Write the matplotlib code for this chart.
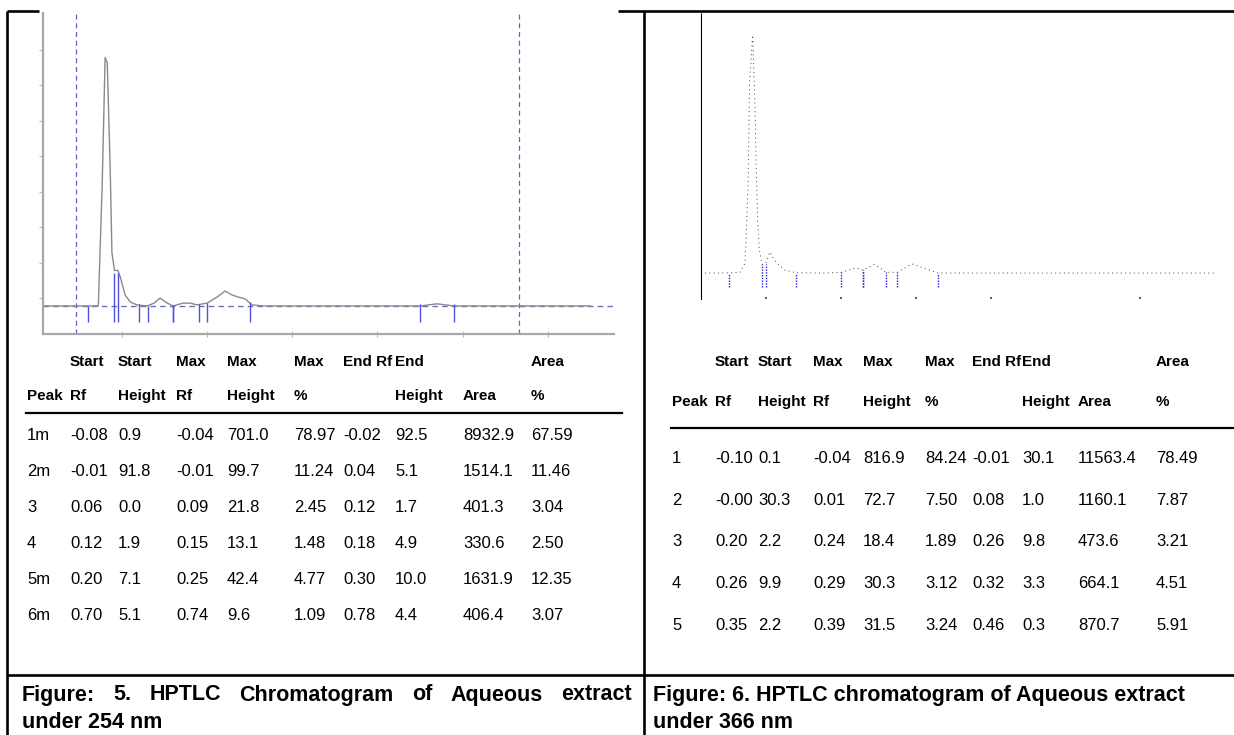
import matplotlib
matplotlib.use('Agg')
import matplotlib.pyplot as plt
import numpy as np

#table of fig 5 (254 nm)
peaks_254 = ['1m', '2m', '3', '4', '5m', '6m']
start_rf_254 = [-0.08, -0.01, 0.06, 0.12, 0.20, 0.70]
start_h_254 = [0.9, 91.8, 0.0, 1.9, 7.1, 5.1]
max_rf_254 = [-0.04, -0.01, 0.09, 0.15, 0.25, 0.74]
max_h_254 = [701.0, 99.7, 21.8, 13.1, 42.4, 9.6]
max_pct_254 = [78.97, 11.24, 2.45, 1.48, 4.77, 1.09]
end_rf_254 = [-0.02, 0.04, 0.12, 0.18, 0.30, 0.78]
end_h_254 = [92.5, 5.1, 1.7, 4.9, 10.0, 4.4]
area_254 = [8932.9, 1514.1, 401.3, 330.6, 1631.9, 406.4]
area_pct_254 = [67.59, 11.46, 3.04, 2.50, 12.35, 3.07]

#table of fig 6 (366 nm)
peaks_366 = ['1', '2', '3', '4', '5']
start_rf_366 = [-0.10, -0.00, 0.20, 0.26, 0.35]
start_h_366 = [0.1, 30.3, 2.2, 9.9, 2.2]
max_rf_366 = [-0.04, 0.01, 0.24, 0.29, 0.39]
max_h_366 = [816.9, 72.7, 18.4, 30.3, 31.5]
max_pct_366 = [84.24, 7.50, 1.89, 3.12, 3.24]
end_rf_366 = [-0.01, 0.08, 0.26, 0.32, 0.46]
end_h_366 = [30.1, 1.0, 9.8, 3.3, 0.3]
area_366 = [11563.4, 1160.1, 473.6, 664.1, 870.7]
area_pct_366 = [78.49, 7.87, 3.21, 4.51, 5.91]

head1 = ['', 'Start', 'Start', 'Max', 'Max', 'Max', 'End Rf', 'End', '', 'Area']
head2 = ['Peak', 'Rf', 'Height', 'Rf', 'Height', '%', '', 'Height', 'Area', '%']

#chromatogram traces (Rf, AU)
rf_254 = [-0.186, -0.056, -0.047, -0.040, -0.035, -0.028, -0.024, -0.018, -0.010,
          -0.004, 0.007, 0.019, 0.035, 0.059, 0.075, 0.089, 0.106, 0.120, 0.143,
          0.160, 0.176, 0.200, 0.223, 0.242, 0.258, 0.273, 0.289, 0.305, 0.331,
          0.70, 0.74, 0.78, 1.10]
au_254 = [0, 0, 336, 700, 685, 383, 150, 100, 100, 80, 31, 11, 3, 0, 8, 22, 8, 0, 8,
          8, 3, 8, 25, 42, 31, 25, 20, 3, 0, 0, 6, 0, 0]

rf_366 = [-0.175, -0.12, -0.07, -0.056, -0.048, -0.044, -0.036, -0.030, -0.026,
          -0.022, -0.018, -0.012, -0.01, 0.0, 0.01, 0.025, 0.05, 0.08, 0.15, 0.20,
          0.24, 0.26, 0.29, 0.32, 0.35, 0.39, 0.46, 0.6, 1.2]
au_366 = [0, 0, 2, 34, 300, 650, 817, 600, 350, 170, 80, 40, 30, 35, 72.7, 40, 10,
          1, 0, 2, 18, 10, 30, 3, 2, 31.5, 0.3, 0, 0]

W, H = 1234, 735
fig = plt.figure(figsize=(W/100, H/100), dpi=100)

def box(x0, y0, x1, y1):
  return [x0/W, 1-y1/H, (x1-x0)/W, (y1-y0)/H]

#page layer in pixel units
page = fig.add_axes([0, 0, 1, 1])
page.set_xlim(0, W); page.set_ylim(H, 0); page.axis('off')

#frame lines
k = dict(color='black', lw=1.9, solid_capstyle='butt')
page.plot([7, 7], [11, H], **k)
page.plot([7, 39], [11, 11], **k)
page.plot([618, W], [11, 11], **k)
page.plot([644, 644], [11, H], **k)
page.plot([7, W], [675, 675], **k)

#---------- left chromatogram ----------
ax1 = fig.add_axes(box(43, 13, 614, 334))
ax1.set_xlim(-0.186, 1.156); ax1.set_ylim(-79, 825)
for s in ['top', 'right']:
  ax1.spines[s].set_visible(False)
for s in ['left', 'bottom']:
  ax1.spines[s].set_color('#a8a8a8'); ax1.spines[s].set_linewidth(1.6)
ax1.set_xticks([0, 0.2, 0.4, 0.6, 0.8, 1.0])
ax1.set_yticks(np.arange(8)*100 + 22)
ax1.tick_params(axis='x', direction='inout', length=5, color='#b8b8b8', labelbottom=False)
ax1.tick_params(axis='y', direction='out', length=3, color='#b8b8b8', labelleft=False)
ax1.patch.set_alpha(0)

blue = '#6060d0'
ax1.axvline(-0.108, color=blue, lw=0.9, ls=(0, (4, 3)))
ax1.axvline(0.933, color=blue, lw=0.9, ls=(0, (4, 3)))
ax1.axhline(0, color='#6e6eb8', lw=1.0, ls=(0, (4, 3)))
ax1.plot(rf_254, au_254, color='#8a8a8a', lw=1.0)
ax1.vlines(start_rf_254, -45, start_h_254, color='#5050e0', lw=1.0)
ax1.vlines(end_rf_254, -45, end_h_254, color='#5050e0', lw=1.0)

#---------- right chromatogram ----------
ax2 = fig.add_axes(box(700.7, 13, 1215, 299))
ax2.set_xlim(-0.1746, 1.2); ax2.set_ylim(-89, 893)
for s in ['top', 'right', 'bottom']:
  ax2.spines[s].set_visible(False)
ax2.spines['left'].set_linestyle((0, (1, 1)))
ax2.spines['left'].set_linewidth(0.8)
ax2.set_xticks([0, 0.2, 0.4, 0.6, 1.0]); ax2.set_yticks([])
ax2.tick_params(axis='x', direction='in', length=1.5, width=1.2, color='#444444', labelbottom=False)
ax2.patch.set_alpha(0)
ax2.plot(rf_366, au_366, color='#444444', lw=0.7, ls=(0, (1, 3.5)))
ax2.vlines(start_rf_366, -48, start_h_366, color='#2020e8', lw=1.0, ls=(0, (1, 1)))
ax2.vlines(end_rf_366, -48, end_h_366, color='#2020e8', lw=1.0, ls=(0, (1, 1)))

#---------- tables ----------
sans = ['Liberation Sans Narrow', 'Liberation Sans']

def table(cols, y_h1, y_h2, y_line, rows_y, data, fs):
  for x, a, b in zip(cols, head1, head2):
    page.text(x, y_h1, a, va='center', ha='left', fontsize=11, family=sans, weight='bold')
    page.text(x, y_h2, b, va='center', ha='left', fontsize=11, family=sans, weight='bold')
  page.plot([cols[0]-1, y_line[1]], [y_line[0], y_line[0]], color='black', lw=1.6)
  for y, row in zip(rows_y, data):
    for x, v in zip(cols, row):
      page.text(x, y, v, va='center', ha='left', fontsize=fs, family=sans)

def rows_of(pk, a, b, c, d, e, f, g, h, i):
  out = []
  for r in zip(pk, a, b, c, d, e, f, g, h, i):
    out.append([r[0], f"{r[1]:.2f}", f"{r[2]:.1f}", f"{r[3]:.2f}", f"{r[4]:.1f}",
                f"{r[5]:.2f}", f"{r[6]:.2f}", f"{r[7]:.1f}", f"{r[8]:.1f}", f"{r[9]:.2f}"])
  return out

cols_l = [27, 70, 118, 176, 227, 294, 343, 395, 463, 531]
cols_r = [672, 715, 758, 813, 863, 925, 972, 1022, 1078, 1156]

data_l = rows_of(peaks_254, start_rf_254, start_h_254, max_rf_254, max_h_254, max_pct_254,
                 end_rf_254, end_h_254, area_254, area_pct_254)
data_r = rows_of(peaks_366, start_rf_366, start_h_366, max_rf_366, max_h_366, max_pct_366,
                 end_rf_366, end_h_366, area_366, area_pct_366)

table(cols_l, 362, 396, (413, 622), 435 + 36*np.arange(6), data_l, 12)
table(cols_r, 362, 402, (428, W), 458 + 42*np.arange(5), data_r, 12)

#---------- captions ----------
cap = dict(va='center', ha='left', fontsize=15.5, family=['Liberation Sans', 'DejaVu Sans'], weight='bold')
words = 'Figure: 5. HPTLC Chromatogram of Aqueous extract'.split()
r = fig.canvas.get_renderer()
tx = [page.text(0, 695, w, **cap) for w in words]
wd = [t.get_window_extent(r).width for t in tx]
gap = (632 - 22 - sum(wd)) / (len(words) - 1)
x = 22
for t, w in zip(tx, wd):
  t.set_x(x); x += w + gap
page.text(22, 722, 'under 254 nm', **cap)
page.text(653, 695, 'Figure: 6. HPTLC chromatogram of Aqueous extract', **cap)
page.text(653, 722, 'under 366 nm', **cap)

plt.savefig('out.png', dpi=100)
